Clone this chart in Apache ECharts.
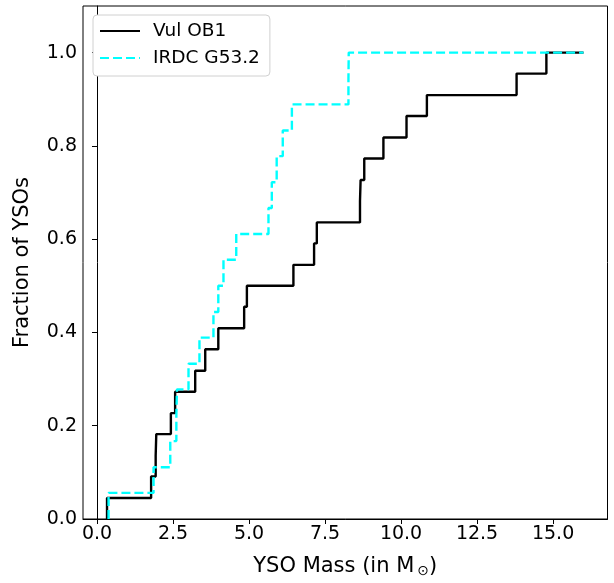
<!DOCTYPE html>
<html>
<head>
<meta charset="utf-8">
<script src="https://cdn.jsdelivr.net/npm/echarts@6/dist/echarts.min.js"></script>
<style>
html,body{margin:0;padding:0;background:#fff;}
#chart{width:614px;height:583px;}
</style>
</head>
<body>
<div id="chart"></div>
<script>
// Cumulative distributions (mass in M_sun, cumulative fraction)
const vulMass = [0.33, 0.33, 1.78, 1.93, 1.95, 2.43, 2.57, 3.23, 3.56, 3.99, 4.84, 4.93, 6.46, 7.14, 7.23, 8.65, 8.67, 8.79, 9.42, 10.18, 10.85, 13.80, 14.78, 16.0];
const vulFrac = [0.0, 0.045, 0.091, 0.136, 0.182, 0.227, 0.273, 0.318, 0.364, 0.409, 0.455, 0.5, 0.545, 0.591, 0.636, 0.682, 0.727, 0.773, 0.818, 0.864, 0.909, 0.955, 1.0, 1.0];
const irdcMass = [0.38, 0.38, 1.86, 2.41, 2.61, 2.63, 3.01, 3.37, 3.83, 3.99, 4.16, 4.58, 5.64, 5.75, 5.91, 6.11, 6.41, 8.27, 8.28, 16.0];
const irdcFrac = [0.0, 0.056, 0.111, 0.167, 0.222, 0.278, 0.333, 0.389, 0.444, 0.5, 0.556, 0.611, 0.667, 0.722, 0.778, 0.833, 0.889, 0.944, 1.0, 1.0];
const xTicks = [0, 2.5, 5, 7.5, 10, 12.5, 15];
const yTicks = [0, 0.2, 0.4, 0.6, 0.8, 1.0];
const seriesNames = ['Vul OB1', 'IRDC G53.2'];

const font = 'DejaVu Sans';
const chart = echarts.init(document.getElementById('chart'), null, {renderer: 'canvas'});
const pair = (xs, ys) => xs.map((x, i) => [x, ys[i]]);

chart.setOption({
  animation: false,
  backgroundColor: '#fff',
  grid: {left: 83, top: 6, right: 6.5, bottom: 55.5, show: true, borderColor: '#000', borderWidth: 1, backgroundColor: 'transparent'},
  legend: {
    orient: 'vertical', left: 93, top: 15,
    padding: [6, 10, 8, 6],
    itemWidth: 40, itemHeight: 3, itemGap: 7,
    itemStyle: {opacity: 0},
    borderColor: '#d0d0d0', borderWidth: 1, borderRadius: 4,
    backgroundColor: '#fff',
    textStyle: {fontFamily: font, fontSize: 18.5, color: '#000', lineHeight: 20, padding: [0, 0, 0, 8]},
    data: seriesNames
  },
  xAxis: {
    type: 'value', min: -0.46, max: 16.79,
    splitLine: {show: false},
    axisLine: {show: true, onZero: false, lineStyle: {color: '#000', width: 1}},
    axisTick: {show: true, length: 5, customValues: xTicks, lineStyle: {color: '#000'}},
    axisLabel: {customValues: xTicks, fontFamily: font, fontSize: 19, color: '#000', margin: 6,
      formatter: v => v.toFixed(1)},
    name: 'YSO Mass (in M{sub|⊙})',
    nameLocation: 'middle', nameGap: 37,
    nameTextStyle: {fontFamily: font, fontSize: 21, color: '#000',
      rich: {sub: {fontFamily: font, fontSize: 14, color: '#000', verticalAlign: 'bottom', padding: [8, 0, 0, 3]}}}
  },
  yAxis: {
    type: 'value', min: 0, max: 1.1,
    splitLine: {show: false},
    axisLine: {show: true, lineStyle: {color: '#000', width: 1}},
    axisTick: {show: true, length: 5, customValues: yTicks, lineStyle: {color: '#000'}},
    axisLabel: {customValues: yTicks, fontFamily: font, fontSize: 19, color: '#000', margin: 6,
      formatter: v => v.toFixed(1)},
    name: 'Fraction of YSOs',
    nameLocation: 'middle', nameGap: 50,
    nameTextStyle: {fontFamily: font, fontSize: 21, color: '#000'}
  },
  series: [
    {
      name: seriesNames[0], type: 'line', step: 'end', symbol: 'none',
      data: pair(vulMass, vulFrac),
      lineStyle: {color: '#000', width: 2.4},
      itemStyle: {color: '#000'}, z: 2
    },
    {
      name: seriesNames[1], type: 'line', step: 'end', symbol: 'none',
      data: pair(irdcMass, irdcFrac),
      lineStyle: {color: '#00ffff', width: 2.4, type: [9, 4]},
      itemStyle: {color: '#00ffff'}, z: 3
    }
  ]
});
</script>
</body>
</html>
